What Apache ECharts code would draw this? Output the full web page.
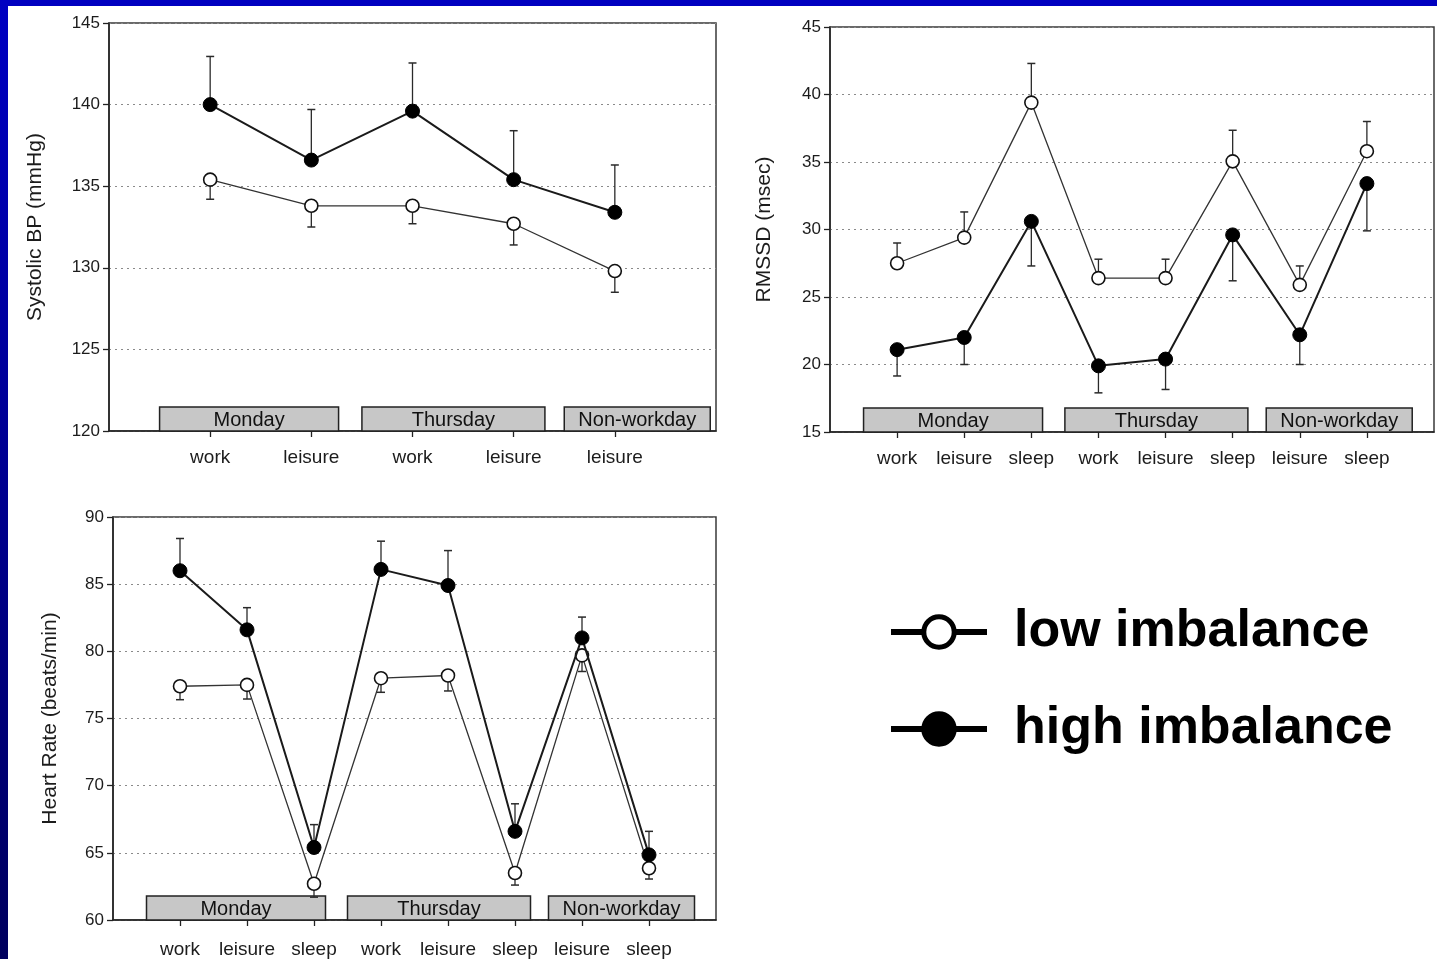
<!DOCTYPE html>
<html>
<head>
<meta charset="utf-8">
<title>Blood pressure, RMSSD and heart rate by effort-reward imbalance</title>
<script src="https://cdn.jsdelivr.net/npm/echarts@6.0.0/dist/echarts.min.js"></script>
<style>
  html, body { margin: 0; padding: 0; background: #fff; }
  #chart { width: 1437px; height: 959px; }
</style>
</head>
<body>
<div id="chart"></div>
<script>
// ---- Data ----------------------------------------------------------------
// Error arrays are signed: positive = whisker drawn upward, negative = downward.

// Systolic blood pressure (mmHg)
const sbpCategories = ['work', 'leisure', 'work', 'leisure', 'leisure'];
const sbpLow      = [135.4, 133.8, 133.8, 132.7, 129.8];
const sbpLowErr   = [-1.2, -1.3, -1.1, -1.3, -1.3];
const sbpHigh     = [140.0, 136.6, 139.6, 135.4, 133.4];
const sbpHighErr  = [2.95, 3.1, 2.95, 3.0, 2.9];
const sbpDays     = [['Monday', 1, 2], ['Thursday', 3, 4], ['Non-workday', 5, 5]];
const sbpTicks    = [120, 145, 5];

// RMSSD (msec)
const rmssdCategories = ['work', 'leisure', 'sleep', 'work', 'leisure', 'sleep', 'leisure', 'sleep'];
const rmssdLow     = [27.5, 29.4, 39.4, 26.4, 26.4, 35.05, 25.9, 35.8];
const rmssdLowErr  = [1.5, 1.9, 2.9, 1.4, 1.4, 2.3, 1.4, 2.2];
const rmssdHigh    = [21.1, 22.0, 30.6, 19.9, 20.4, 29.6, 22.2, 33.4];
const rmssdHighErr = [-1.95, -2.0, -3.3, -2.0, -2.25, -3.4, -2.2, -3.5];
const rmssdDays    = [['Monday', 1, 3], ['Thursday', 4, 6], ['Non-workday', 7, 8]];
const rmssdTicks   = [15, 45, 5];

// Heart rate (beats/min)
const hrCategories = ['work', 'leisure', 'sleep', 'work', 'leisure', 'sleep', 'leisure', 'sleep'];
const hrLow     = [77.4, 77.5, 62.7, 78.0, 78.2, 63.5, 79.7, 63.85];
const hrLowErr  = [-1.0, -1.05, -1.0, -1.05, -1.15, -0.9, -1.2, -0.8];
const hrHigh    = [86.0, 81.6, 65.4, 86.1, 84.9, 66.6, 81.0, 64.85];
const hrHighErr = [2.4, 1.65, 1.7, 2.1, 2.6, 2.05, 1.55, 1.75];
const hrDays    = [['Monday', 1, 3], ['Thursday', 4, 6], ['Non-workday', 7, 8]];
const hrTicks   = [60, 90, 5];

const LOW_NAME = 'low imbalance';
const HIGH_NAME = 'high imbalance';

// ---- Layout & style ------------------------------------------------------
const FONT = 'Arial, "Liberation Sans", Helvetica, sans-serif';
const INK = '#1c1c1c';

const panels = [
  { title: 'Systolic BP (mmHg)', cats: sbpCategories, low: sbpLow, lowErr: sbpLowErr,
    high: sbpHigh, highErr: sbpHighErr, days: sbpDays, ticks: sbpTicks,
    grid: { left: 109, top: 23, width: 607, height: 408 }, nameGap: 63, labelMargin: 17 },
  { title: 'RMSSD (msec)', cats: rmssdCategories, low: rmssdLow, lowErr: rmssdLowErr,
    high: rmssdHigh, highErr: rmssdHighErr, days: rmssdDays, ticks: rmssdTicks,
    grid: { left: 830, top: 27, width: 604, height: 405 }, nameGap: 55, labelMargin: 17 },
  { title: 'Heart Rate (beats/min)', cats: hrCategories, low: hrLow, lowErr: hrLowErr,
    high: hrHigh, highErr: hrHighErr, days: hrDays, ticks: hrTicks,
    grid: { left: 113, top: 517, width: 603, height: 404 }, nameGap: 52, labelMargin: 20 }
];

// widths (px) of the day-name boxes sitting on the x axis
const DAY_BOX_WIDTH = { 'Monday': 179, 'Thursday': 183, 'Non-workday': 146 };
const DAY_BOX_HEIGHT = 24;

// vertical error whisker with a short cap
function renderWhisker(params, api) {
  const x = api.value(0), m = api.value(1), e = api.value(2);
  const p0 = api.coord([x, m]);
  const p1 = api.coord([x, m + e]);
  return {
    type: 'group',
    children: [
      { type: 'line', shape: { x1: p0[0], y1: p0[1], x2: p1[0], y2: p1[1] },
        style: { stroke: '#2a2a2a', lineWidth: 1.3 } },
      { type: 'line', shape: { x1: p1[0] - 4, y1: p1[1], x2: p1[0] + 4, y2: p1[1] },
        style: { stroke: '#2a2a2a', lineWidth: 1.5 } }
    ]
  };
}

// grey day boxes on the category axis
function makeDayRenderer(days, yMin) {
  return function (params, api) {
    const d = days[params.dataIndex];
    const base = api.coord([d[1] - 0.5, yMin]);
    const w = DAY_BOX_WIDTH[d[0]];
    const h = DAY_BOX_HEIGHT;
    return {
      type: 'group',
      children: [
        { type: 'rect', shape: { x: base[0], y: base[1] - h, width: w, height: h },
          style: { fill: '#c7c7c7', stroke: '#222', lineWidth: 1.5 } },
        { type: 'text', x: base[0] + w / 2, y: base[1] - h / 2 + 1,
          style: { text: d[0], align: 'center', verticalAlign: 'middle',
                   fontSize: 20, fontFamily: FONT, fill: '#111' } }
      ]
    };
  };
}

const grids = [], xAxes = [], yAxes = [], series = [];

panels.forEach((p, i) => {
  const n = p.cats.length;
  const idx = p.cats.map((_, k) => k + 1);
  const [yMin, yMax, yStep] = p.ticks;

  grids.push(Object.assign({
    show: true, backgroundColor: 'transparent',
    borderColor: '#3a3a3a', borderWidth: 1.5
  }, p.grid));

  xAxes.push({
    gridIndex: i, type: 'value', min: 0, max: n + 1, interval: 1,
    axisLine: { show: true, lineStyle: { color: '#222', width: 1.5 } },
    axisTick: { show: true, customValues: idx, length: 6, lineStyle: { color: '#222', width: 1.3 } },
    axisLabel: {
      customValues: idx, margin: p.labelMargin, fontSize: 19, fontFamily: FONT, color: INK,
      formatter: v => p.cats[Math.round(v) - 1] || ''
    },
    splitLine: { show: false }
  });

  yAxes.push({
    gridIndex: i, type: 'value', min: yMin, max: yMax, interval: yStep,
    name: p.title, nameLocation: 'middle', nameGap: p.nameGap,
    nameTextStyle: { fontSize: 21, fontFamily: FONT, color: INK },
    axisLine: { show: true, lineStyle: { color: '#222', width: 1.5 } },
    axisTick: { show: true, length: 6, lineStyle: { color: '#222', width: 1.3 } },
    axisLabel: { margin: 9, fontSize: 17, fontFamily: FONT, color: INK },
    splitLine: { show: true, lineStyle: { color: '#8a8a8a', type: [2, 4], width: 1 } }
  });

  // day boxes
  series.push({
    type: 'custom', xAxisIndex: i, yAxisIndex: i, z: 1, silent: true,
    renderItem: makeDayRenderer(p.days, yMin),
    data: p.days.map(d => [d[1], d[2]])
  });

  // error whiskers for both groups
  series.push({
    type: 'custom', xAxisIndex: i, yAxisIndex: i, z: 2, silent: true,
    renderItem: renderWhisker,
    data: p.high.map((v, k) => [k + 1, v, p.highErr[k]])
  });
  series.push({
    type: 'custom', xAxisIndex: i, yAxisIndex: i, z: 2, silent: true,
    renderItem: renderWhisker,
    data: p.low.map((v, k) => [k + 1, v, p.lowErr[k]])
  });

  series.push({
    name: LOW_NAME, type: 'line', xAxisIndex: i, yAxisIndex: i, z: 3,
    data: p.low.map((v, k) => [k + 1, v]),
    symbol: 'circle', symbolSize: 13,
    lineStyle: { color: '#333', width: 1.3 },
    itemStyle: { color: '#fff', borderColor: '#111', borderWidth: 1.6 },
    emphasis: { disabled: true }, animation: false
  });
  series.push({
    name: HIGH_NAME, type: 'line', xAxisIndex: i, yAxisIndex: i, z: 4,
    data: p.high.map((v, k) => [k + 1, v]),
    symbol: 'circle', symbolSize: 14,
    lineStyle: { color: '#1a1a1a', width: 2 },
    itemStyle: { color: '#000', borderColor: '#000', borderWidth: 1 },
    emphasis: { disabled: true }, animation: false
  });
});

const option = {
  backgroundColor: '#ffffff',
  animation: false,
  grid: grids,
  xAxis: xAxes,
  yAxis: yAxes,
  series: series,
  legend: {
    orient: 'vertical', left: 883, top: 597,
    data: [LOW_NAME, HIGH_NAME], selectedMode: false,
    itemWidth: 96, itemHeight: 38, itemGap: 37,
    textStyle: { fontSize: 52, fontWeight: 'bold', fontFamily: FONT, color: '#000',
                 lineHeight: 60, padding: [0, 0, 0, 22] },
    lineStyle: { width: 6, color: '#000' },
    itemStyle: { borderWidth: 5, borderColor: '#000' }
  },
  graphic: [
    { type: 'rect', left: 0, top: 0, z: 100, silent: true,
      shape: { width: 1437, height: 6 }, style: { fill: '#0000c0' } },
    { type: 'rect', left: 0, top: 0, z: 100, silent: true,
      shape: { width: 8, height: 959 },
      style: { fill: new echarts.graphic.LinearGradient(0, 0, 0, 1, [
        { offset: 0, color: '#0000c2' }, { offset: 1, color: '#00005e' }]) } }
  ]
};

const chart = echarts.init(document.getElementById('chart'), null, { renderer: 'canvas' });
chart.setOption(option);
</script>
</body>
</html>
